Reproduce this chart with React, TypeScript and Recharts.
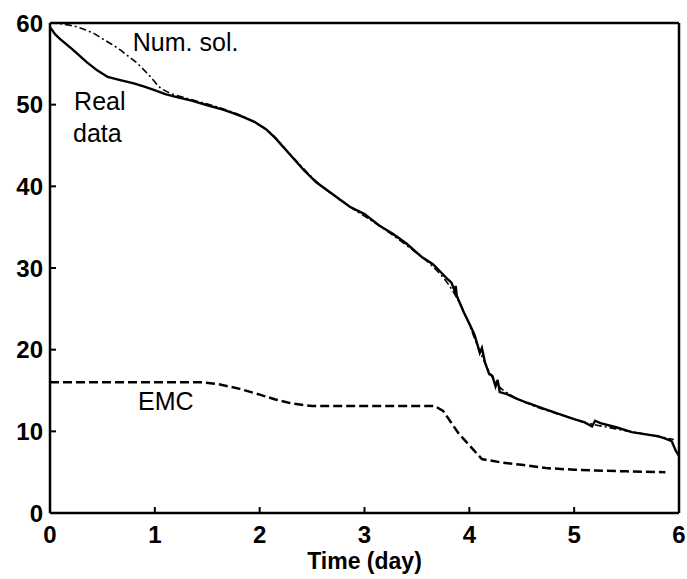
import { LineChart, Line, XAxis, YAxis, ReferenceDot } from 'recharts'

// moisture content vs time
const realTime = [0, 0.05, 0.1, 0.22, 0.35, 0.45, 0.55, 0.67, 0.8, 0.9, 0.99, 1.1, 1.22, 1.35, 1.51, 1.65, 1.74, 1.84, 1.95, 2.06, 2.15, 2.31, 2.42, 2.54, 2.7, 2.86, 3.0, 3.14, 3.27, 3.4, 3.55, 3.65, 3.72, 3.78, 3.83, 3.86, 3.87, 3.88, 3.9, 3.95, 4.0, 4.05, 4.08, 4.1, 4.12, 4.15, 4.19, 4.22, 4.25, 4.27, 4.29, 4.35, 4.45, 4.55, 4.7, 4.86, 5.0, 5.1, 5.17, 5.2, 5.25, 5.4, 5.55, 5.7, 5.8, 5.87, 5.93, 5.97, 6.0]
const realValue = [59.5, 58.6, 58.0, 56.7, 55.2, 54.2, 53.4, 53.0, 52.6, 52.2, 51.8, 51.3, 50.9, 50.5, 49.9, 49.4, 49.0, 48.5, 47.9, 47.0, 45.9, 43.6, 42.0, 40.5, 39.0, 37.5, 36.6, 35.2, 34.2, 33.0, 31.3, 30.5, 29.6, 28.8, 28.2, 27.2, 27.8, 26.6, 26.0, 24.5, 23.2, 21.8, 20.5, 19.6, 20.2, 18.4, 17.0, 16.8, 15.5, 16.3, 14.8, 14.6, 14.0, 13.5, 12.8, 12.1, 11.5, 11.1, 10.6, 11.3, 11.0, 10.5, 9.9, 9.6, 9.4, 9.1, 8.8, 7.6, 7.0]

const numTime = [0, 0.1, 0.2, 0.31, 0.42, 0.51, 0.6, 0.67, 0.75, 0.83, 0.9, 0.96, 1.05, 1.15, 1.3, 1.6, 1.9, 2.1, 2.3, 2.55, 2.85, 3.15, 3.45, 3.65, 3.8, 3.95, 4.1, 4.25, 4.4, 4.6, 4.85, 5.1, 5.4, 5.7, 5.95]
const numValue = [60, 59.9, 59.7, 59.3, 58.7, 58.0, 57.3, 56.7, 55.9, 55.1, 54.2, 53.4, 52.1, 51.4, 50.8, 49.7, 48.2, 46.6, 43.8, 40.5, 37.6, 35.1, 32.3, 30.2, 28.0, 24.6, 19.8, 16.0, 14.4, 13.2, 12.1, 11.1, 10.3, 9.6, 9.0]

const emcTime = [0, 0.5, 1.0, 1.46, 1.6, 1.81, 2.0, 2.15, 2.31, 2.5, 3.0, 3.67, 3.75, 3.9, 4.0, 4.12, 4.3, 4.5, 4.73, 5.0, 5.2, 5.5, 5.87]
const emcValue = [16.0, 16.0, 16.0, 16.0, 15.8, 15.2, 14.5, 13.9, 13.4, 13.1, 13.1, 13.1, 12.5, 9.7, 8.3, 6.6, 6.2, 5.9, 5.5, 5.3, 5.2, 5.1, 5.0]

const xTicks = [0, 1, 2, 3, 4, 5, 6]
const yTicks = [0, 10, 20, 30, 40, 50, 60]

const toPoints = (xs: number[], ys: number[]) => xs.map((x, i) => ({ x, y: ys[i] }))
const realData = toPoints(realTime, realValue)
const numData = toPoints(numTime, numValue)
const emcData = toPoints(emcTime, emcValue)

const FONT = '"Liberation Sans", Arial, sans-serif'

function XTick({ x, y, payload }: any) {
  return (
    <g>
      <line x1={x} y1={y} x2={x} y2={y - 6} stroke="#000" strokeWidth={2} />
      <text x={x} y={y + 30} textAnchor="middle" fontFamily={FONT} fontWeight="bold" fontSize={24} fill="#000">
        {payload.value}
      </text>
    </g>
  )
}

function YTick({ x, y, payload }: any) {
  return (
    <g>
      <line x1={x} y1={y} x2={x + 6} y2={y} stroke="#000" strokeWidth={2} />
      <text x={x - 7} y={y + 8.5} textAnchor="end" fontFamily={FONT} fontWeight="bold" fontSize={24} fill="#000">
        {payload.value}
      </text>
    </g>
  )
}

const note = (text: string) => (props: any) => (
  <text x={props.viewBox.x} y={props.viewBox.y} fontFamily={FONT} fontSize={25} fill="#000">
    {text}
  </text>
)

export default function App() {
  return (
    <div style={{ position: 'absolute', left: 0, top: 0, background: '#fff' }}>
      <LineChart width={687} height={579} margin={{ top: 23, right: 8, bottom: 36, left: 10 }}>
        <XAxis
          type="number"
          dataKey="x"
          domain={[0, 6]}
          ticks={xTicks}
          height={30}
          tickSize={0}
          tickMargin={0}
          tickLine={false}
          axisLine={{ stroke: '#000', strokeWidth: 2.5 }}
          tick={<XTick />}
          label={{
            content: (p: any) => (
              <text
                x={p.viewBox.x + p.viewBox.width / 2}
                y={p.viewBox.y + p.viewBox.height + 26}
                textAnchor="middle"
                fontFamily={FONT}
                fontWeight="bold"
                fontSize={23}
                fill="#000"
              >
                Time (day)
              </text>
            ),
          }}
        />
        <XAxis
          xAxisId="top"
          orientation="top"
          mirror
          type="number"
          dataKey="x"
          domain={[0, 6]}
          ticks={xTicks}
          height={1}
          tick={false}
          tickSize={6}
          tickLine={{ stroke: '#000', strokeWidth: 2 }}
          axisLine={{ stroke: '#000', strokeWidth: 2.5 }}
        />
        <YAxis
          type="number"
          domain={[0, 60]}
          ticks={yTicks}
          width={40}
          tickSize={0}
          tickMargin={0}
          tickLine={false}
          axisLine={{ stroke: '#000', strokeWidth: 2.5 }}
          tick={<YTick />}
        />
        <YAxis
          yAxisId="right"
          orientation="right"
          mirror
          type="number"
          domain={[0, 60]}
          ticks={yTicks}
          width={1}
          tick={false}
          tickSize={6}
          tickLine={{ stroke: '#000', strokeWidth: 2 }}
          axisLine={{ stroke: '#000', strokeWidth: 2.5 }}
        />
        <Line
          data={emcData}
          dataKey="y"
          type="linear"
          stroke="#000"
          strokeWidth={2.5}
          strokeDasharray="9 4"
          dot={false}
          isAnimationActive={false}
        />
        <Line
          data={numData}
          dataKey="y"
          type="monotone"
          stroke="#000"
          strokeWidth={1.6}
          strokeDasharray="7 3 2 3"
          dot={false}
          isAnimationActive={false}
        />
        <Line
          data={realData}
          dataKey="y"
          type="linear"
          stroke="#000"
          strokeWidth={2.4}
          dot={false}
          isAnimationActive={false}
        />
        <ReferenceDot x={0.79} y={56.6} r={0} stroke="none" label={{ content: note('Num. sol.') }} />
        <ReferenceDot x={0.23} y={49.4} r={0} stroke="none" label={{ content: note('Real') }} />
        <ReferenceDot x={0.22} y={45.4} r={0} stroke="none" label={{ content: note('data') }} />
        <ReferenceDot x={0.84} y={12.6} r={0} stroke="none" label={{ content: note('EMC') }} />
      </LineChart>
    </div>
  )
}
